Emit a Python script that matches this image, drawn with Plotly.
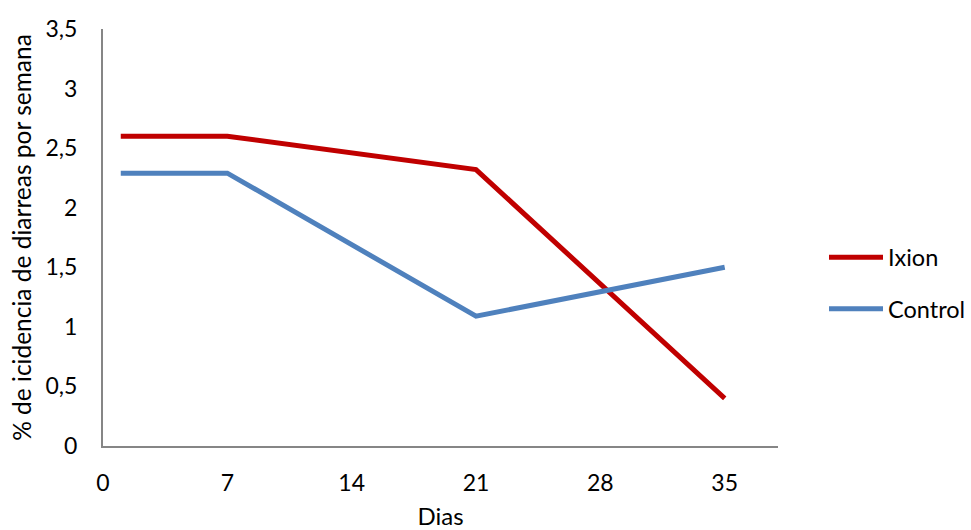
import plotly.graph_objects as go

# Days of observation
dias = [1, 7, 21, 35]

# Weekly diarrhoea incidence (%) per group
ixion = [2.6, 2.6, 2.32, 0.4]
control = [2.29, 2.29, 1.09, 1.5]

x_ticks = [0, 7, 14, 21, 28, 35]
y_ticks = [0, 0.5, 1, 1.5, 2, 2.5, 3, 3.5]
y_tick_text = ["0", "0,5", "1", "1,5", "2", "2,5", "3", "3,5"]

FONT = "Lato"
AXIS_GREY = "#868686"

fig = go.Figure()
fig.add_trace(go.Scatter(
    x=dias, y=ixion, mode="lines", name="Ixion", legendgroup="a",
    line=dict(color="#C00000", width=5),
))
fig.add_trace(go.Scatter(
    x=dias, y=control, mode="lines", name="Control", legendgroup="b",
    line=dict(color="#4F81BD", width=5),
))

fig.update_layout(
    width=971, height=530,
    margin=dict(l=103, r=193, t=29, b=84, autoexpand=False),
    paper_bgcolor="white", plot_bgcolor="white",
    font=dict(family=FONT, size=23, color="black"),
    showlegend=True,
    legend=dict(
        x=1.0, xref="container", y=0.39, xanchor="right", yanchor="middle",
        font=dict(family=FONT, size=23.5, color="black"),
        tracegroupgap=18, bgcolor="rgba(0,0,0,0)",
        itemwidth=54,
    ),
    xaxis=dict(
        range=[0, 38], tickvals=x_ticks, ticktext=[str(v) for v in x_ticks],
        showgrid=False, zeroline=False, showline=True,
        linecolor=AXIS_GREY, linewidth=2, automargin=False,
        ticks="outside", ticklen=15, tickcolor="rgba(0,0,0,0)",
        title=dict(text="Dias", font=dict(family=FONT, size=24), standoff=16),
    ),
    yaxis=dict(
        range=[0, 3.5], tickvals=y_ticks, ticktext=y_tick_text,
        showgrid=False, zeroline=False, showline=True,
        linecolor=AXIS_GREY, linewidth=2, automargin=False,
        ticks="outside", ticklen=19, tickcolor="rgba(0,0,0,0)",
        title=dict(text="% de icidencia de diarreas por semana",
                   font=dict(family=FONT, size=24.5), standoff=7),
    ),
)

fig.write_html("out.html")
